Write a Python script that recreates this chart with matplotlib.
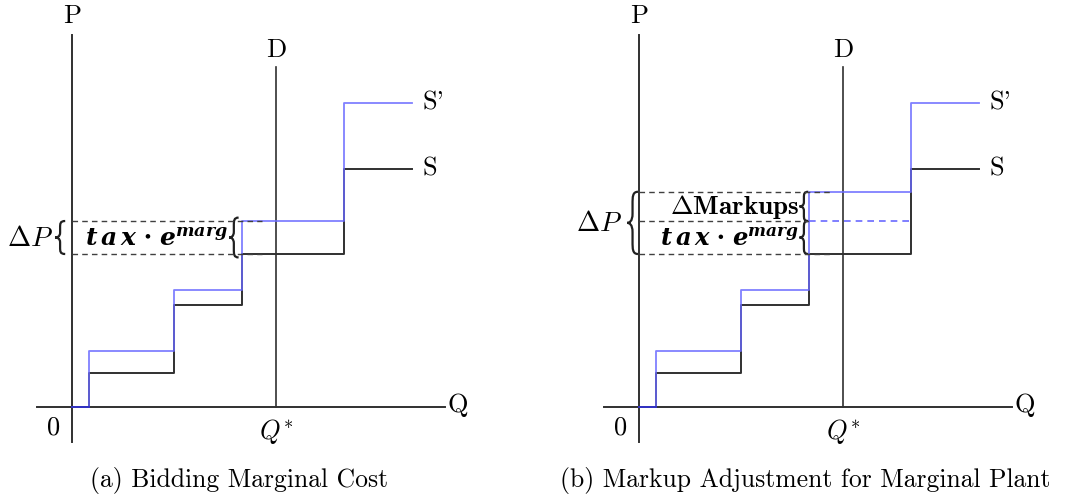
import matplotlib
matplotlib.use("Agg")
import matplotlib.pyplot as plt
from matplotlib.path import Path
from matplotlib.patches import PathPatch

plt.rcParams['mathtext.fontset'] = 'cm'
# fuente para el texto en negrita cursiva (math_fontfamily='custom')
plt.rcParams['mathtext.bf'] = 'DejaVu Serif:italic:bold'
plt.rcParams['mathtext.rm'] = 'DejaVu Serif:bold'

# Datos (unidades arbitrarias: Q horizontal, P vertical)
q_pasos = [0, 0.5, 3, 5, 8, 10]
s_niveles = [0, 1.0, 3.0, 4.5, 7.0]
s_prima_a = [0, 1.65, 3.45, 5.47, 8.95]
s_prima_b = [0, 1.65, 3.45, 6.33, 8.95]
q_demanda = 6
p_demanda_max = 10
nivel_impuesto = 5.47     # S + tax*e^marg en (b)
titulos = ["(a) Bidding Marginal Cost", "(b) Markup Adjustment for Marginal Plant"]

NEGRO = '#303030'
AZUL = '#6a6aff'
ESC = 34.0  # px por unidad


def escalones(q, niveles):
    xs, ys = [], []
    for i, p in enumerate(niveles):
        xs += [q[i], q[i + 1]]
        ys += [p, p]
    return xs, ys


def llave(ax, x, y0, y1, w, lw=1.6):
    # llave "{" apuntando a la izquierda
    ym = (y0 + y1) / 2
    h = y1 - y0
    xm = x + w / 2
    verts = [
        (x + w, y1), (xm, y1), (xm, y1 - 0.08 * h), (xm, y1 - 0.2 * h),
        (xm, ym + 0.15 * h),
        (xm, ym + 0.02 * h), (x + 0.2 * w, ym), (x, ym),
        (x + 0.2 * w, ym), (xm, ym - 0.02 * h), (xm, ym - 0.15 * h),
        (xm, y0 + 0.2 * h),
        (xm, y0 + 0.08 * h), (xm, y0), (x + w, y0),
    ]
    codes = [Path.MOVETO, Path.CURVE4, Path.CURVE4, Path.CURVE4,
             Path.LINETO,
             Path.CURVE4, Path.CURVE4, Path.CURVE4,
             Path.CURVE4, Path.CURVE4, Path.CURVE4,
             Path.LINETO,
             Path.CURVE4, Path.CURVE4, Path.CURVE4]
    ax.add_patch(PathPatch(Path(verts, codes), fill=False, lw=lw, color='#202020'))


W, H = 1065, 496
fig = plt.figure(figsize=(W / 100, H / 100), dpi=100)
origenes = [(72, 407), (639, 407)]
axes = []
for ox, oy in origenes:
    x0, x1 = -2.0, 12.5
    y0, y1 = -2.6, 11.6
    left = ox + x0 * ESC
    bottom = (H - oy) + y0 * ESC
    ax = fig.add_axes([left / W, bottom / H, (x1 - x0) * ESC / W, (y1 - y0) * ESC / H])
    ax.set_xlim(x0, x1)
    ax.set_ylim(y0, y1)
    ax.axis('off')
    axes.append(ax)

tax_txt = r'$\mathbf{t\,a\,x}\;\mathrm{\cdot}\;\mathbf{e}^{\mathbf{marg}}$'
FS = 19

for k, ax in enumerate(axes):
    sp = s_prima_a if k == 0 else s_prima_b
    # ejes
    ax.plot([0, 0], [-1.03, 10.95], color=NEGRO, lw=1.4)
    ax.plot([-1.03, 10.97], [0, 0], color=NEGRO, lw=1.4)
    ax.plot([q_demanda, q_demanda], [0, p_demanda_max], color=NEGRO, lw=1.2)
    # curvas de oferta
    xs, ys = escalones(q_pasos, s_niveles)
    ax.step(xs, ys, where='post', color=NEGRO, lw=1.4)
    xs2, ys2 = escalones(q_pasos, sp)
    ax.step(xs2, ys2, where='post', color=AZUL, lw=1.3, alpha=0.85)
    ax.plot(xs2[:2], ys2[:2], color='#3030c0', lw=1.4)

    ax.text(0, 11.5, 'P', fontfamily='cmr10', fontsize=FS, ha='center', va='center')
    ax.text(11.35, 0.05, 'Q', fontfamily='cmr10', fontsize=FS, ha='center', va='center')
    ax.text(-0.55, -0.6, '0', fontfamily='cmr10', fontsize=FS, ha='center', va='center')
    ax.text(q_demanda, 10.5, 'D', fontfamily='cmr10', fontsize=FS, ha='center', va='center')
    ax.text(q_demanda, -0.72, r'$Q^{*}$', fontsize=FS, ha='center', va='center')
    ax.text(q_pasos[-1] + 0.3, s_niveles[-1], 'S', fontfamily='cmr10', fontsize=FS,
            ha='left', va='center')
    ax.text(q_pasos[-1] + 0.3, sp[-1], "S'", fontfamily='cmr10', fontsize=FS,
            ha='left', va='center')
    ax.text(4.9, -2.15, titulos[k], fontfamily='cmr10', fontsize=18.5, ha='center', va='center')

    base = s_niveles[3]
    tope = sp[3]
    if k == 0:
        for yv in [base, tope]:
            ax.plot([0, 5.6], [yv, yv], color='#404040', lw=1.0, ls=(0, (4, 3)))
        llave(ax, -0.5, base, tope, 0.3)
        ax.text(-0.56, (base + tope) / 2, r'$\Delta P$', fontsize=20, ha='right', va='center')
        llave(ax, 4.62, base - 0.1, tope + 0.1, 0.28)
        ax.text(4.58, (base + tope) / 2 - 0.05, tax_txt, fontsize=18, ha='right', va='center',
                math_fontfamily='custom')
    else:
        for yv in [base, nivel_impuesto, tope]:
            ax.plot([0, 5.0 if yv == nivel_impuesto else 5.7], [yv, yv], color='#404040',
                    lw=1.0, ls=(0, (4, 3)))
        ax.plot([5.0, 8.0], [nivel_impuesto, nivel_impuesto], color=AZUL, lw=1.2,
                ls=(0, (4, 3)))
        llave(ax, -0.35, base, tope, 0.32)
        ax.text(-0.5, (base + tope) / 2, r'$\Delta P$', fontsize=20, ha='right', va='center')
        llave(ax, 4.72, nivel_impuesto, tope, 0.26)
        llave(ax, 4.72, base, nivel_impuesto, 0.26)
        ax.text(4.7, (nivel_impuesto + tope) / 2 - 0.02, r'$\mathbf{\Delta Markups}$',
                fontsize=19.5, ha='right', va='center')
        ax.text(4.7, (base + nivel_impuesto) / 2 - 0.05, tax_txt, fontsize=17.5,
                ha='right', va='center', math_fontfamily='custom')

fig.savefig('out.png', dpi=100)
